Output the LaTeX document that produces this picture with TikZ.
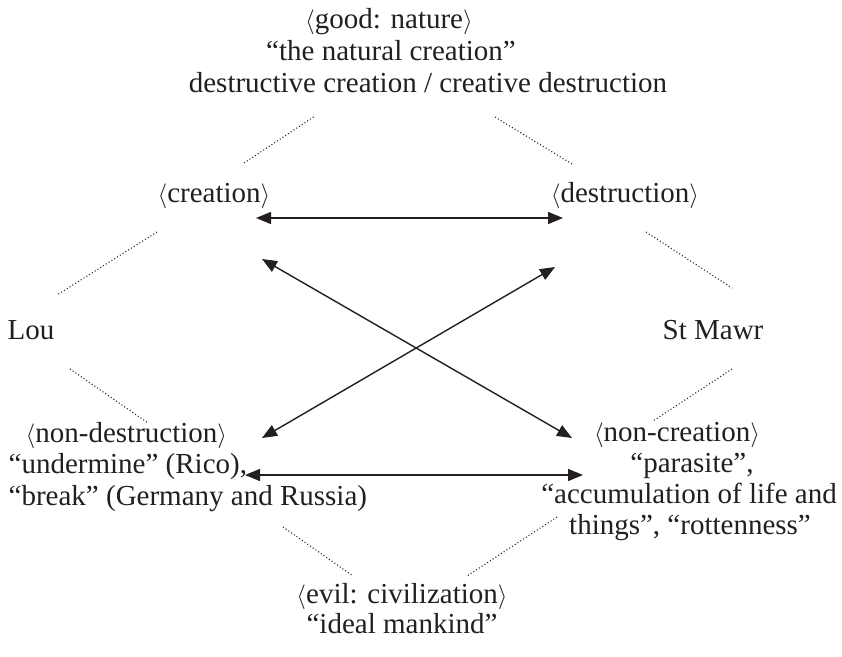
\documentclass[tikz,border=0pt]{standalone}
\usepackage{fontspec}
\setmainfont{Liberation Serif}
\usetikzlibrary{arrows.meta}
\definecolor{ink}{HTML}{231F20}

\begin{document}
\begin{tikzpicture}[x=1pt,y=-1pt,line width=1.4pt,>={Triangle[length=15pt,width=12pt]},
  color=ink,
  lbl/.style={font=\fontsize{29}{32}\selectfont,inner sep=0pt,anchor=base},
  dotline/.style={line width=1.1pt,dash pattern=on 1pt off 2.3pt}]
\useasboundingbox (0,0) rectangle (842,656);
% ---------- 顶部：good ----------
\node[lbl] (good)    at (389,28) {$\langle$good: nature$\rangle$};
\node[lbl] (natural) at (391,60) {“the natural creation”};
\node[lbl] (destcr)  at (428,92) {destructive creation / creative destruction};
% ---------- 四角 ----------
\node[lbl] (creation) at (214,202) {$\langle$creation$\rangle$};
\node[lbl] (destruct) at (625,202) {$\langle$destruction$\rangle$};
\node[lbl,anchor=base west] (lou) at (7,339) {Lou};
\node[lbl] (mawr) at (713,339) {St Mawr};
% 左下：non-destruction
\node[lbl,anchor=base west] (nondest) at (25,442) {$\langle$non-destruction$\rangle$};
\node[lbl,anchor=base west] (rico)    at (8,473) {“undermine” (Rico),};
\node[lbl,anchor=base west] (break)   at (8,505) {“break” (Germany and Russia)};
% 右下：non-creation
\node[lbl] (noncr)     at (677,441) {$\langle$non-creation$\rangle$};
\node[lbl] (parasite)  at (692,472) {“parasite”,};
\node[lbl] (accum)     at (689,503) {“accumulation of life and};
\node[lbl] (rotten)    at (690,534) {things”, “rottenness”};
% ---------- 底部：evil ----------
\node[lbl] (evil)  at (402,603) {$\langle$evil: civilization$\rangle$};
\node[lbl] (ideal) at (402,633) {“ideal mankind”};
% 箭头端点
\coordinate (cr-r)  at (256,218);  \coordinate (de-l)  at (563,218);
\coordinate (cr-d)  at (262,259);  \coordinate (nc-u)  at (572,438);
\coordinate (nd-u)  at (262,438);  \coordinate (de-d)  at (555,267);
\coordinate (nd-r)  at (245,475);  \coordinate (nc-l)  at (583,475);
\draw[<->] (cr-r) -- (de-l);
\draw[<->] (cr-d) -- (nc-u);
\draw[<->] (nd-u) -- (de-d);
\draw[<->] (nd-r) -- (nc-l);
% 点线
\draw[dotline] (244,163) -- (315,116);
\draw[dotline] (495,117) -- (572,164);
\draw[dotline] (157,232) -- (57,295);
\draw[dotline] (646,232) -- (732,288);
\draw[dotline] (70,369)  -- (148,423);
\draw[dotline] (732,369) -- (653,421);
\draw[dotline] (283,527) -- (353,576);
\draw[dotline] (557,517) -- (467,576);
\end{tikzpicture}
\end{document}
